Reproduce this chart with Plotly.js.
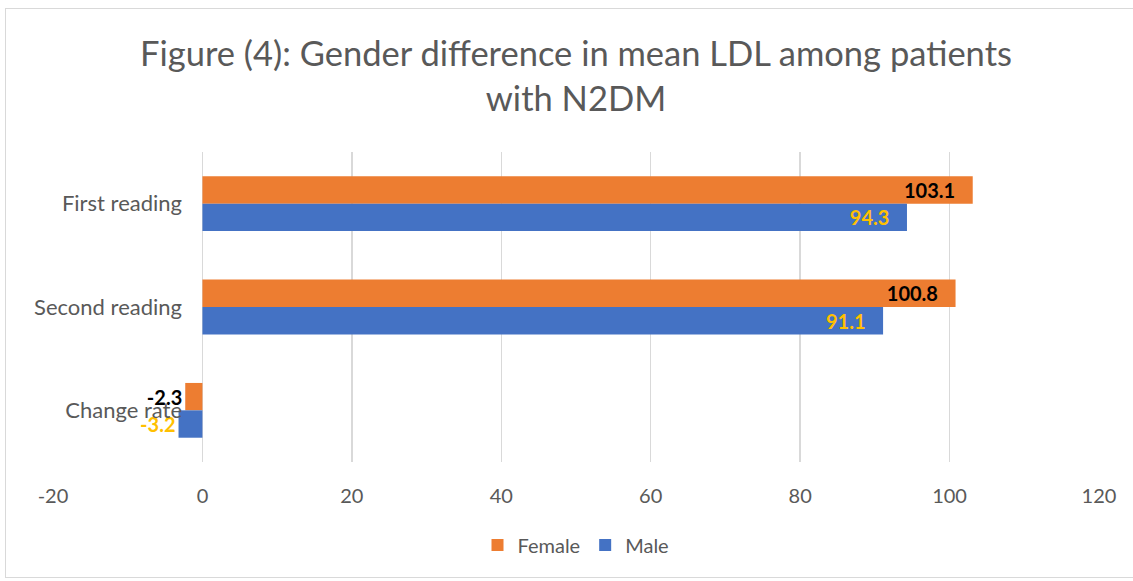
<!DOCTYPE html>
<html><head><meta charset="utf-8">
<script src="https://cdn.plot.ly/plotly-3.0.1.min.js"></script>
<style>body{margin:0;padding:0;background:#fff;}#wrap{position:relative;width:1133px;height:581px;overflow:hidden;}#chart{width:1133px;height:581px;}#border{position:absolute;left:5px;top:8px;width:1140px;height:568px;border:1.5px solid #d9d9d9;pointer-events:none;}</style>
</head><body>
<div id="wrap"><div id="chart"></div><div id="border"></div></div>
<script>
const categories = ["First reading", "Second reading", "Change rate"];
const femaleValues = [103.1, 100.8, -2.3];
const maleValues = [94.3, 91.1, -3.2];
const femaleLabels = ["103.1", "100.8", "-2.3"];
const maleLabels = ["94.3", "91.1", "-3.2"];
const xTicks = [-20, 0, 20, 40, 60, 80, 100, 120];
const xTickText = ["-20", "0", "20", "40", "60", "80", "100", "120"];

const pos = v => v.map(x => x < 0 ? 'outside' : 'inside');
const pad = (labels, vals) => labels.map((t, i) => vals[i] < 0 ? t : t + '\u00a0\u00a0\u00a0');
const traces = [
  {type:'bar', orientation:'h', name:'Female', y:categories, x:femaleValues,
   marker:{color:'#ED7D31'}, text:pad(femaleLabels, femaleValues), textposition:pos(femaleValues),
   insidetextanchor:'end', constraintext:'none', cliponaxis:false,
   textfont:{family:'Lato, sans-serif', size:20, color:'#000000', weight:'bold'},
   hoverinfo:'x+name'},
  {type:'bar', orientation:'h', name:'Male', y:categories, x:maleValues,
   marker:{color:'#4472C4'}, text:pad(maleLabels, maleValues), textposition:pos(maleValues),
   insidetextanchor:'end', constraintext:'none', cliponaxis:false,
   textfont:{family:'Lato, sans-serif', size:20, color:'#FFC000', weight:'bold'},
   hoverinfo:'x+name'}
];
const layout = {
  width:1133, height:581,
  margin:{l:53, r:34, t:152, b:119},
  paper_bgcolor:'#ffffff', plot_bgcolor:'#ffffff',
  font:{family:'Lato, sans-serif', color:'#595959'},
  title:{text:'Figure (4): Gender difference in mean LDL among patients<br>with N2DM',
    x:0.5, xref:'paper', xanchor:'center', y:0.887, yanchor:'top',
    font:{family:'Lato, sans-serif', size:34.5, color:'#595959'}},
  barmode:'group', bargap:0.47, bargroupgap:0,
  xaxis:{range:[-20,120], tickvals:xTicks, ticktext:xTickText, showgrid:true, gridcolor:'#d9d9d9', gridwidth:1.3,
    zeroline:true, zerolinecolor:'#d9d9d9', zerolinewidth:1.3, showline:false,
    ticks:'', ticklabelstandoff:20, tickfont:{size:20, color:'#595959'}, fixedrange:true},
  yaxis:{type:'category', autorange:'reversed', anchor:'free', position:151/1046,
    showgrid:false, zeroline:false, showline:false, ticks:'', ticklabelstandoff:22,
    tickfont:{size:22, color:'#595959'}, fixedrange:true},
  showlegend:true,
  legend:{orientation:'h', x:0.5, xanchor:'center', y:-0.268, yanchor:'middle',
    font:{size:20, color:'#595959'}, itemwidth:30},
};
Plotly.newPlot('chart', traces, layout, {displayModeBar:false, staticPlot:true});
</script>
</body></html>
